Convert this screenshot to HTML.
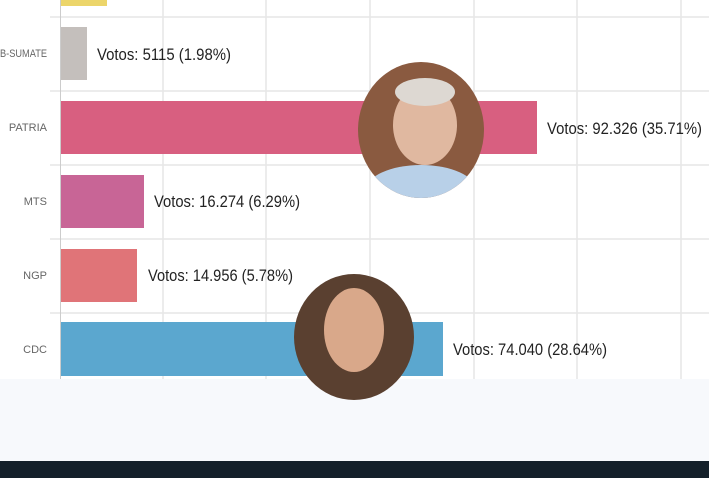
<!DOCTYPE html>
<html><head><meta charset="utf-8"><style>
html,body{margin:0;padding:0;width:709px;height:478px;overflow:hidden;background:#fff;font-family:"Liberation Sans",sans-serif;}
</style></head><body>
<svg width="709" height="478" viewBox="0 0 709 478" xmlns="http://www.w3.org/2000/svg" font-family="Liberation Sans, sans-serif">
<defs>
<clipPath id="c1"><ellipse cx="421" cy="130" rx="63" ry="68"/></clipPath>
<clipPath id="c2"><ellipse cx="354" cy="337" rx="60" ry="63"/></clipPath>
</defs>
<rect width="709" height="478" fill="#fff"/>
<g stroke="#e6e6e6" stroke-width="1.5">
<line x1="163" y1="0" x2="163" y2="379"/><line x1="266" y1="0" x2="266" y2="379"/>
<line x1="370" y1="0" x2="370" y2="379"/><line x1="474" y1="0" x2="474" y2="379"/>
<line x1="577" y1="0" x2="577" y2="379"/><line x1="681" y1="0" x2="681" y2="379"/>
<line x1="50" y1="17" x2="709" y2="17"/><line x1="50" y1="91" x2="709" y2="91"/>
<line x1="50" y1="165" x2="709" y2="165"/><line x1="50" y1="239" x2="709" y2="239"/>
<line x1="50" y1="313" x2="709" y2="313"/>
</g>
<line x1="60.5" y1="0" x2="60.5" y2="379" stroke="#ccc"/>
<rect x="61" y="0" width="46" height="6" fill="#ecd56a"/>
<rect x="61" y="27" width="26" height="53" fill="#c4bfbc"/>
<rect x="61" y="101" width="476" height="53" fill="#d85f80"/>
<rect x="61" y="175" width="83" height="53" fill="#c86596"/>
<rect x="61" y="249" width="76" height="53" fill="#e07478"/>
<rect x="61" y="322" width="382" height="54" fill="#5ba7cf"/>
<g font-size="11" fill="#666" text-anchor="end">
<text x="47" y="57" textLength="47" lengthAdjust="spacingAndGlyphs">B-SUMATE</text><text x="47" y="131">PATRIA</text>
<text x="47" y="205">MTS</text><text x="47" y="279">NGP</text><text x="47" y="353">CDC</text>
</g>
<g font-size="17" fill="#222" lengthAdjust="spacingAndGlyphs">
<text x="97" y="60" textLength="134" lengthAdjust="spacingAndGlyphs">Votos: 5115 (1.98%)</text>
<text x="547" y="134" textLength="155" lengthAdjust="spacingAndGlyphs">Votos: 92.326 (35.71%)</text>
<text x="154" y="207" textLength="146" lengthAdjust="spacingAndGlyphs">Votos: 16.274 (6.29%)</text>
<text x="148" y="281" textLength="145" lengthAdjust="spacingAndGlyphs">Votos: 14.956 (5.78%)</text>
<text x="453" y="355" textLength="154" lengthAdjust="spacingAndGlyphs">Votos: 74.040 (28.64%)</text>
</g>
<rect x="0" y="379" width="709" height="82" fill="#f7f9fc"/>
<rect x="0" y="461" width="709" height="17" fill="#14202a"/>
<g clip-path="url(#c1)">
<rect x="358" y="62" width="126" height="136" fill="#8a5a40"/>
<ellipse cx="421" cy="190" rx="55" ry="25" fill="#b8d0e8"/>
<ellipse cx="425" cy="125" rx="32" ry="40" fill="#e0b8a0"/>
<ellipse cx="425" cy="92" rx="30" ry="14" fill="#ddd8d2"/>
</g>
<g clip-path="url(#c2)">
<rect x="294" y="274" width="120" height="126" fill="#5a4030"/>
<ellipse cx="354" cy="330" rx="30" ry="42" fill="#d9a88a"/>
</g>
</svg>
</body></html>
